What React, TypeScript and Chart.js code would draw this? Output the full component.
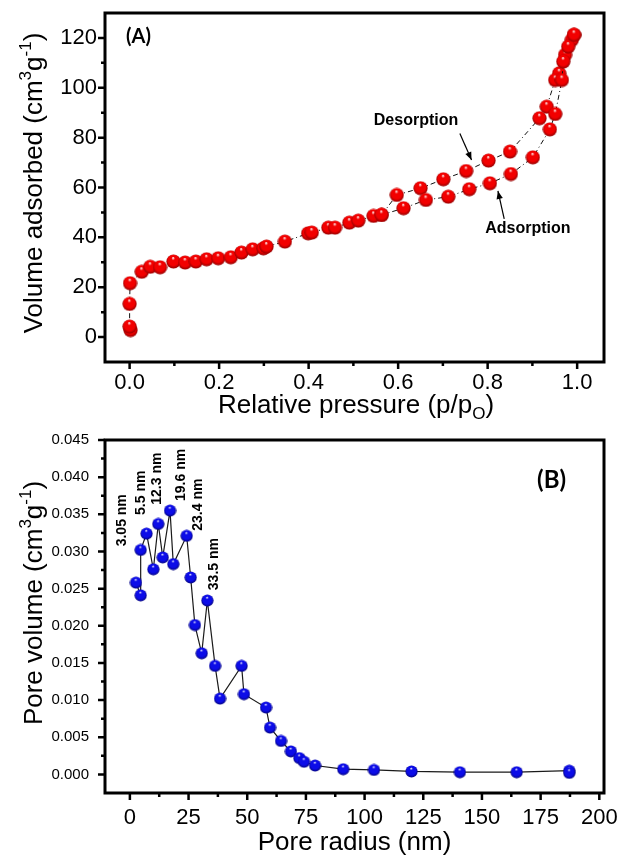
import React, { useEffect, useRef } from "react";
import { Chart, registerables } from "chart.js";
Chart.register(...registerables);

const SANS = '"Liberation Sans", Arial, Helvetica, sans-serif';
const PANEL_FONT = 'Lato, "Open Sans", sans-serif';

// ---------- Panel A : N2 isotherm ----------
const adsorptionP = [0.002, 0.0, 0.0, 0.001, 0.027, 0.046, 0.068, 0.098, 0.124, 0.148, 0.172, 0.198, 0.226, 0.25, 0.275, 0.299, 0.306, 0.347, 0.399, 0.407, 0.444, 0.459, 0.491, 0.511, 0.545, 0.563, 0.612, 0.662, 0.712, 0.759, 0.805, 0.852, 0.901, 0.939, 0.951, 0.966, 0.969, 0.98, 0.993];
const adsorptionV = [2.8, 4.2, 13.3, 21.6, 26.2, 28.2, 28.0, 30.3, 29.9, 30.3, 31.2, 31.6, 32.0, 33.9, 35.2, 35.6, 36.3, 38.3, 41.6, 41.9, 43.9, 43.9, 45.9, 46.7, 48.6, 49.0, 51.7, 55.0, 56.3, 59.3, 61.7, 65.4, 72.1, 83.3, 89.5, 103.1, 110.5, 116.5, 121.2];
const desorptionP = [0.993, 0.988, 0.973, 0.96, 0.951, 0.932, 0.916, 0.85, 0.802, 0.752, 0.701, 0.65, 0.597, 0.563];
const desorptionV = [121.2, 119.2, 113.2, 105.8, 103.1, 92.4, 87.8, 74.4, 70.8, 66.6, 63.3, 59.7, 57.0, 49.0];
const pressureTicks = [0, 0.2, 0.4, 0.6, 0.8, 1.0];
const volumeTicks = [0, 20, 40, 60, 80, 100, 120];

// ---------- Panel B : pore size distribution ----------
const poreRadius = [2.6, 4.6, 4.6, 7.1, 10.0, 12.1, 14.0, 17.1, 18.5, 24.2, 25.9, 27.7, 30.6, 33.0, 36.3, 38.4, 47.6, 48.6, 58.0, 59.7, 64.4, 68.6, 72.2, 74.2, 78.9, 90.9, 104.0, 120.0, 140.6, 164.8, 187.2, 187.2];
const poreVolume = [0.0258, 0.0241, 0.0302, 0.0324, 0.0276, 0.0337, 0.0292, 0.0355, 0.0283, 0.0321, 0.0265, 0.0201, 0.0163, 0.0234, 0.0146, 0.0102, 0.0146, 0.0108, 0.009, 0.0063, 0.0045, 0.0031, 0.0022, 0.0017, 0.0012, 0.0007, 0.0006, 0.0004, 0.0003, 0.0003, 0.0005, 0.0002];
const radiusTicks = [0, 25, 50, 75, 100, 125, 150, 175, 200];
const poreVolumeTicks = [0, 0.005, 0.01, 0.015, 0.02, 0.025, 0.03, 0.035, 0.04, 0.045];
const peakLabels = ["3.05 nm", "5.5 nm", "12.3 nm", "19.6 nm", "23.4 nm", "33.5 nm"];
const peakLabelAt: [number, number][] = [[-3.4, 0.0342], [4.7, 0.0379], [11.8, 0.0398], [21.8, 0.0403], [29.0, 0.0363], [35.8, 0.0283]];

type Seg = { t: string; m?: "sup" | "sub" };

function mids(a: number[]) {
  const out: number[] = [];
  for (let i = 0; i < a.length - 1; i++) out.push((a[i] + a[i + 1]) / 2);
  return out;
}

function sphereImage(d: number, hi: string, mid: string, lo: string): HTMLCanvasElement {
  const c = document.createElement("canvas");
  c.width = d;
  c.height = d;
  const g = c.getContext("2d")!;
  const r = d / 2;
  const grad = g.createRadialGradient(r * 0.95, r * 0.5, r * 0.04, r, r, r * 1.05);
  grad.addColorStop(0, hi);
  grad.addColorStop(0.2, mid);
  grad.addColorStop(0.65, mid);
  grad.addColorStop(1, lo);
  g.fillStyle = grad;
  g.beginPath();
  g.arc(r, r, r - 0.4, 0, Math.PI * 2);
  g.fill();
  return c;
}

function drawRich(ctx: CanvasRenderingContext2D, segs: Seg[], center: number, baseline: number, size: number, vertical: boolean) {
  const small = Math.round(size * 0.64);
  const widths = segs.map((s) => {
    ctx.font = `${s.m ? small : size}px ${SANS}`;
    return ctx.measureText(s.t).width;
  });
  const total = widths.reduce((a, b) => a + b, 0);
  ctx.save();
  if (vertical) {
    ctx.translate(baseline, center);
    ctx.rotate(-Math.PI / 2);
  } else {
    ctx.translate(center, baseline);
  }
  ctx.fillStyle = "#000";
  ctx.textBaseline = "alphabetic";
  ctx.textAlign = "left";
  let x = -total / 2;
  segs.forEach((s, i) => {
    ctx.font = `${s.m ? small : size}px ${SANS}`;
    const dy = s.m === "sup" ? -size * 0.42 : s.m === "sub" ? size * 0.24 : 0;
    ctx.fillText(s.t, x, dy);
    x += widths[i];
  });
  ctx.restore();
}

function drawFrame(chart: any, xMajor: number[], yMajor: number[]) {
  const ctx: CanvasRenderingContext2D = chart.ctx;
  const { left, right, top, bottom } = chart.chartArea;
  const xs = chart.scales.x;
  const ys = chart.scales.y;
  ctx.save();
  ctx.strokeStyle = "#000";
  ctx.lineWidth = 2.5;
  ctx.beginPath();
  xMajor.forEach((v) => {
    const p = xs.getPixelForValue(v);
    ctx.moveTo(p, bottom);
    ctx.lineTo(p, bottom + 7);
  });
  mids(xMajor).forEach((v) => {
    const p = xs.getPixelForValue(v);
    ctx.moveTo(p, bottom);
    ctx.lineTo(p, bottom + 4);
  });
  yMajor.forEach((v) => {
    const p = ys.getPixelForValue(v);
    ctx.moveTo(left, p);
    ctx.lineTo(left - 7, p);
  });
  mids(yMajor).forEach((v) => {
    const p = ys.getPixelForValue(v);
    ctx.moveTo(left, p);
    ctx.lineTo(left - 4, p);
  });
  ctx.stroke();
  ctx.lineWidth = 3;
  ctx.strokeRect(left, top, right - left, bottom - top);
  ctx.restore();
}

function arrow(ctx: CanvasRenderingContext2D, x1: number, y1: number, x2: number, y2: number) {
  ctx.save();
  ctx.strokeStyle = "#000";
  ctx.fillStyle = "#000";
  ctx.lineWidth = 1.2;
  ctx.beginPath();
  ctx.moveTo(x1, y1);
  ctx.lineTo(x2, y2);
  ctx.stroke();
  const a = Math.atan2(y2 - y1, x2 - x1);
  const L = 8;
  const W = 3.2;
  ctx.beginPath();
  ctx.moveTo(x2, y2);
  ctx.lineTo(x2 - L * Math.cos(a) + W * Math.sin(a), y2 - L * Math.sin(a) - W * Math.cos(a));
  ctx.lineTo(x2 - L * Math.cos(a) - W * Math.sin(a), y2 - L * Math.sin(a) + W * Math.cos(a));
  ctx.closePath();
  ctx.fill();
  ctx.restore();
}

function linearAxis(min: number, max: number, ticks: number[], fmt: (v: number) => string, size: number, padding: number, fit: (s: any) => void) {
  return {
    type: "linear" as const,
    min,
    max,
    grid: { display: false, drawTicks: false },
    border: { display: false },
    afterBuildTicks: (s: any) => {
      s.ticks = ticks.map((v) => ({ value: v }));
    },
    afterFit: (s: any) => {
      fit(s);
      s.paddingLeft = 0;
      s.paddingRight = 0;
      s.paddingTop = 0;
      s.paddingBottom = 0;
    },
    ticks: {
      font: { family: SANS, size },
      color: "#000",
      padding,
      autoSkip: false,
      maxRotation: 0,
      callback: (v: any) => fmt(Number(v)),
    },
  };
}

export default function App() {
  const refA = useRef<HTMLCanvasElement>(null);
  const refB = useRef<HTMLCanvasElement>(null);

  useEffect(() => {
    const redBall = sphereImage(15, "#fff0f0", "#f20000", "#780000");
    const blueBall = sphereImage(13, "#e6e6ff", "#0c0ce8", "#00005c");

    const decorA = {
      id: "decorA",
      afterDraw(chart: any) {
        const ctx: CanvasRenderingContext2D = chart.ctx;
        const { left, right, top, bottom } = chart.chartArea;
        const xs = chart.scales.x;
        const ys = chart.scales.y;
        drawFrame(chart, pressureTicks, volumeTicks);
        drawRich(ctx, [{ t: "Volume adsorbed (cm" }, { t: "3", m: "sup" }, { t: "g" }, { t: "-1", m: "sup" }, { t: ")" }], (top + bottom) / 2 - 4.5, 42, 26, true);
        drawRich(ctx, [{ t: "Relative pressure (p/p" }, { t: "O", m: "sub" }, { t: ")" }], (left + right) / 2 + 1.5, 413, 26, false);
        ctx.save();
        ctx.fillStyle = "#000";
        ctx.font = `bold 20px ${PANEL_FONT}`;
        ctx.textBaseline = "alphabetic";
        ctx.textAlign = "left";
        ctx.fillText("(A)", left + 21, top + 30);
        ctx.font = `bold 16px ${SANS}`;
        ctx.textAlign = "center";
        ctx.textBaseline = "middle";
        ctx.fillText("Desorption", xs.getPixelForValue(0.64), ys.getPixelForValue(87.0));
        ctx.fillText("Adsorption", xs.getPixelForValue(0.89), ys.getPixelForValue(43.5));
        ctx.restore();
        arrow(ctx, xs.getPixelForValue(0.738), ys.getPixelForValue(81.7), xs.getPixelForValue(0.764), ys.getPixelForValue(71.0));
        arrow(ctx, xs.getPixelForValue(0.837), ys.getPixelForValue(47.4), xs.getPixelForValue(0.823), ys.getPixelForValue(58.6));
      },
    };

    const decorB = {
      id: "decorB",
      afterDraw(chart: any) {
        const ctx: CanvasRenderingContext2D = chart.ctx;
        const { left, right, top, bottom } = chart.chartArea;
        const xs = chart.scales.x;
        const ys = chart.scales.y;
        drawFrame(chart, radiusTicks, poreVolumeTicks);
        drawRich(ctx, [{ t: "Pore volume (cm" }, { t: "3", m: "sup" }, { t: "g" }, { t: "-1", m: "sup" }, { t: ")" }], (top + bottom) / 2 - 13.5, 42, 26, true);
        drawRich(ctx, [{ t: "Pore radius (nm)" }], (left + right) / 2, 430, 26, false);
        ctx.save();
        ctx.fillStyle = "#000";
        ctx.font = `bold 24px ${PANEL_FONT}`;
        ctx.textBaseline = "alphabetic";
        ctx.textAlign = "left";
        ctx.fillText("(B)", xs.getPixelForValue(173.5), ys.getPixelForValue(0.0386));
        ctx.font = `bold 14px ${SANS}`;
        ctx.textAlign = "center";
        ctx.textBaseline = "middle";
        peakLabels.forEach((lab, i) => {
          const [r, v] = peakLabelAt[i];
          ctx.save();
          ctx.translate(xs.getPixelForValue(r), ys.getPixelForValue(v));
          ctx.rotate(-Math.PI / 2);
          ctx.fillText(lab, 0, 0);
          ctx.restore();
        });
        ctx.restore();
      },
    };

    const chartA = new Chart(refA.current!, {
      type: "scatter",
      data: {
        datasets: [
          {
            data: adsorptionP.map((p, i) => ({ x: p, y: adsorptionV[i] })),
            showLine: true,
            borderColor: "#111",
            borderWidth: 1,
            borderDash: [5, 3, 1, 3],
            pointStyle: redBall,
            pointRadius: 7,
          },
          {
            data: desorptionP.map((p, i) => ({ x: p, y: desorptionV[i] })),
            showLine: true,
            borderColor: "#111",
            borderWidth: 1,
            borderDash: [5, 3, 1, 3],
            pointStyle: redBall,
            pointRadius: 7,
          },
        ],
      },
      options: {
        responsive: false,
        animation: false,
        events: [],
        layout: { padding: { top: 13, right: 18, left: 0, bottom: 0 } },
        plugins: { legend: { display: false }, tooltip: { enabled: false } },
        scales: {
          x: linearAxis(-0.055, 1.06, pressureTicks, (v) => v.toFixed(1), 22, 8, (s: any) => { s.height = 58; }),
          y: linearAxis(-10, 130, volumeTicks, (v) => String(v), 22, 8, (s: any) => { s.width = 105; }),
        },
      },
      plugins: [decorA],
    } as any);

    const chartB = new Chart(refB.current!, {
      type: "scatter",
      data: {
        datasets: [
          {
            data: poreRadius.map((r, i) => ({ x: r, y: poreVolume[i] })),
            showLine: true,
            borderColor: "#1a1a1a",
            borderWidth: 1.2,
            pointStyle: blueBall,
            pointRadius: 6,
          },
        ],
      },
      options: {
        responsive: false,
        animation: false,
        events: [],
        layout: { padding: { top: 20, right: 18, left: 0, bottom: 0 } },
        plugins: { legend: { display: false }, tooltip: { enabled: false } },
        scales: {
          x: linearAxis(-10.6, 202, radiusTicks, (v) => String(v), 22, 12, (s: any) => { s.height = 65; }),
          y: linearAxis(-0.0025, 0.045, poreVolumeTicks, (v) => v.toFixed(3), 15, 16, (s: any) => { s.width = 105; }),
        },
      },
      plugins: [decorB],
    } as any);

    return () => {
      chartA.destroy();
      chartB.destroy();
    };
  }, []);

  return (
    <div style={{ position: "absolute", left: 0, top: 0, width: 622, height: 858, background: "#fff" }}>
      <canvas ref={refA} width={622} height={420} style={{ position: "absolute", left: 0, top: 0, display: "block" }} />
      <canvas ref={refB} width={622} height={438} style={{ position: "absolute", left: 0, top: 420, display: "block" }} />
    </div>
  );
}
